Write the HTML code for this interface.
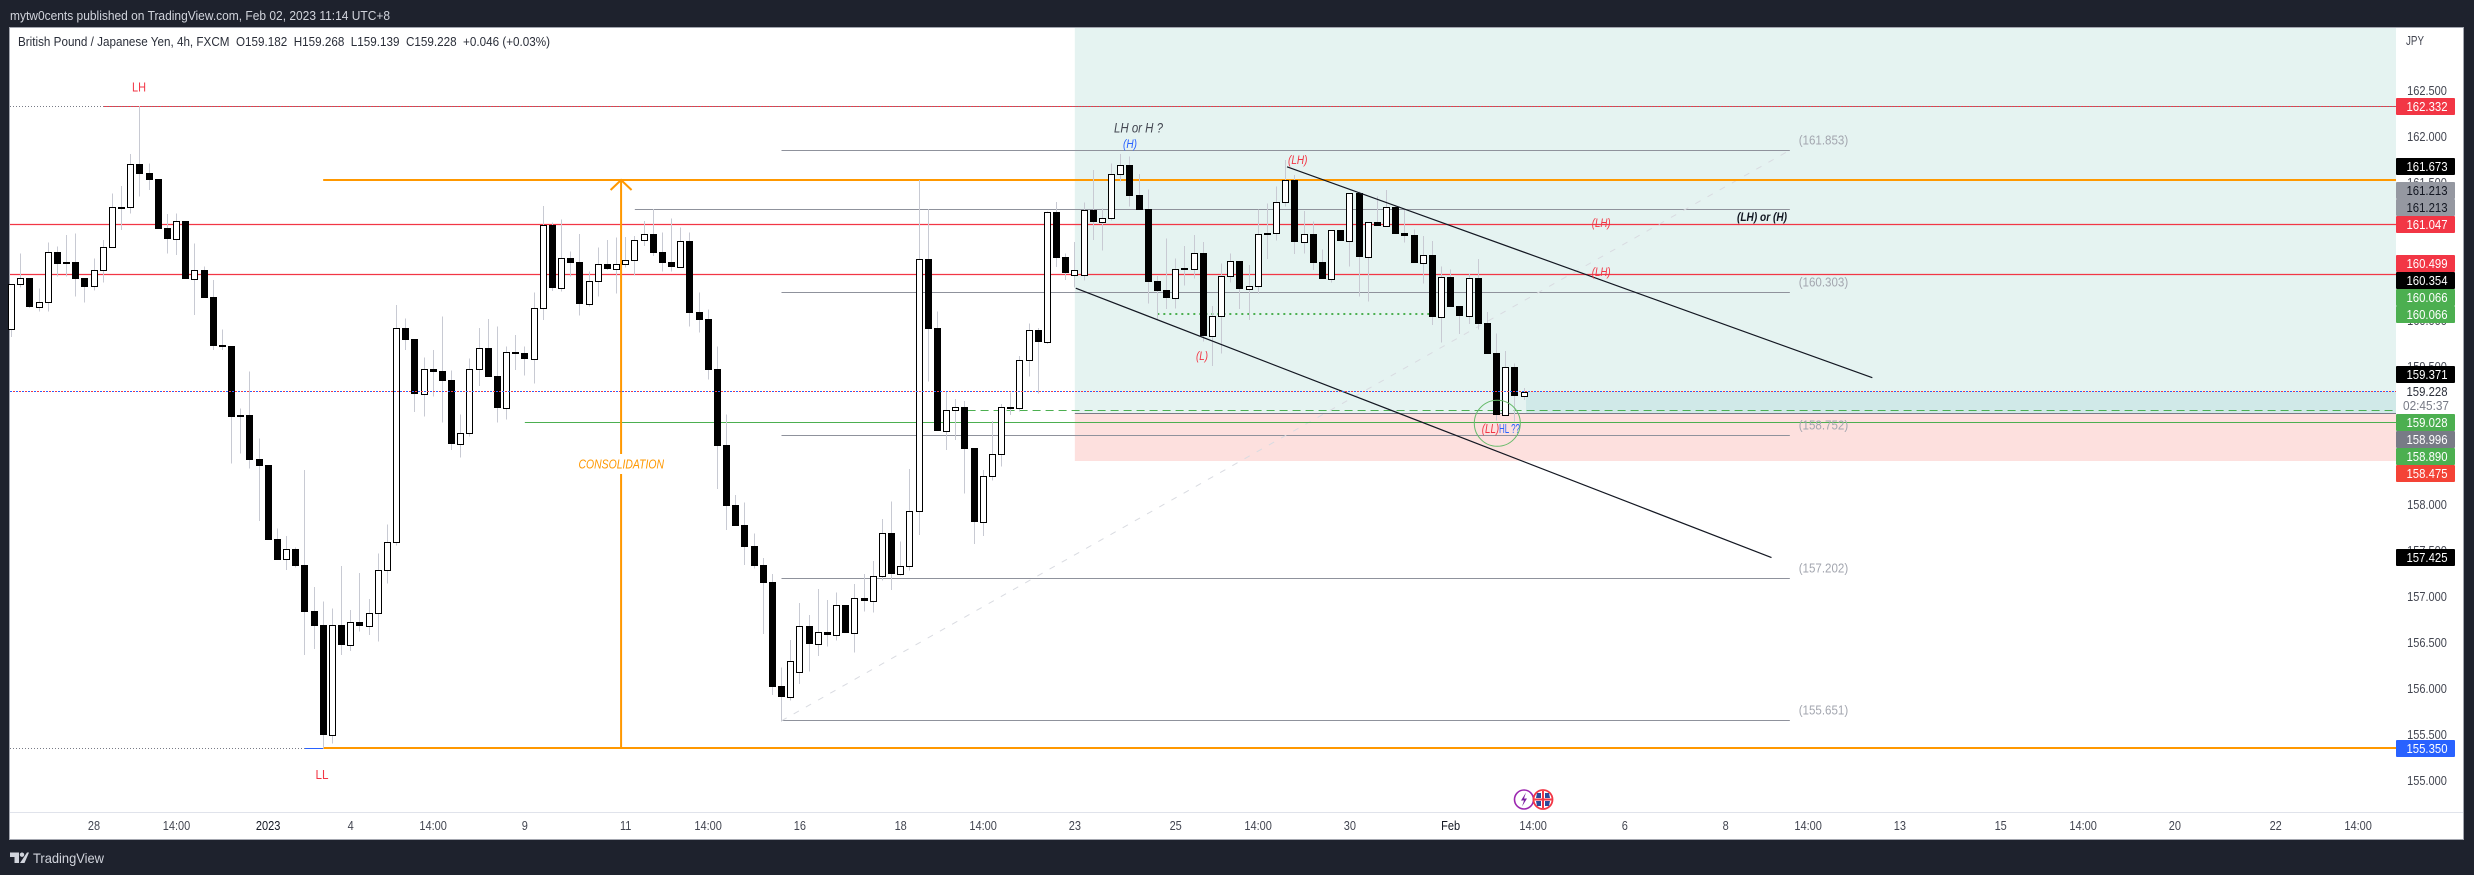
<!DOCTYPE html>
<html lang="en">
<head>
<meta charset="utf-8">
<title>GBPJPY 4h chart</title>
<style>
html,body{margin:0;padding:0;background:#1e222d;width:2474px;height:875px;overflow:hidden}
svg{display:block}
text{font-family:"Liberation Sans",sans-serif}
</style>
</head>
<body>
<svg id="chart" xmlns="http://www.w3.org/2000/svg" width="2474" height="875" viewBox="0 0 2474 875">
  <rect width="2474" height="875" fill="#1e222d"/>
  <text x="10" y="20" font-size="13" fill="#d1d4dc" textLength="380" lengthAdjust="spacingAndGlyphs">mytw0cents published on TradingView.com, Feb 02, 2023 11:14 UTC+8</text>
  <rect x="9.5" y="27.5" width="2454" height="812" fill="#ffffff" stroke="#a3a6af" stroke-width="1"/>
  <g id="shades"></g>
  <g id="linesUnder"></g>
  <g id="candles"></g>
  <g id="linesOver"></g>

  <text x="18" y="46" font-size="13" fill="#2a2e39" style="white-space:pre" textLength="532" lengthAdjust="spacingAndGlyphs">British Pound / Japanese Yen, 4h, FXCM  O159.182  H159.268  L159.139  C159.228  +0.046 (+0.03%)</text>

  <text x="139" y="91.5" font-size="13" fill="#f23645" text-anchor="middle" textLength="14" lengthAdjust="spacingAndGlyphs">LH</text>
  <text x="322" y="779" font-size="13" fill="#f23645" text-anchor="middle" textLength="13" lengthAdjust="spacingAndGlyphs">LL</text>
  <rect x="577" y="454" width="89" height="20" fill="#ffffff"/>
  <text x="578.5" y="468.5" font-size="13" font-style="italic" fill="#ff9800" textLength="85.5" lengthAdjust="spacingAndGlyphs">CONSOLIDATION</text>
  <text x="1114" y="132.5" font-size="13.5" font-style="italic" fill="#434651" textLength="49" lengthAdjust="spacingAndGlyphs">LH or H ?</text>
  <text x="1123" y="148" font-size="11.5" font-style="italic" fill="#2962ff" textLength="14" lengthAdjust="spacingAndGlyphs">(H)</text>
  <text x="1288" y="164" font-size="11.5" font-style="italic" fill="#f23645" textLength="19.5" lengthAdjust="spacingAndGlyphs">(LH)</text>
  <text x="1196" y="360" font-size="11.5" font-style="italic" fill="#f23645" textLength="12" lengthAdjust="spacingAndGlyphs">(L)</text>
  <text x="1591.7" y="227" font-size="11.5" font-style="italic" fill="#f23645" textLength="19" lengthAdjust="spacingAndGlyphs">(LH)</text>
  <text x="1591.7" y="276" font-size="11.5" font-style="italic" fill="#f23645" textLength="19" lengthAdjust="spacingAndGlyphs">(LH)</text>
  <text x="1737" y="221" font-size="11.5" font-style="italic" font-weight="700" fill="#131722" textLength="50" lengthAdjust="spacingAndGlyphs">(LH) or (H)</text>
  <text x="1481.7" y="433" font-size="13" font-style="italic" fill="#f23645" textLength="17.5" lengthAdjust="spacingAndGlyphs">(LL)</text>
  <text x="1499" y="433" font-size="13" fill="#2962ff" textLength="21" lengthAdjust="spacingAndGlyphs">HL ??</text>
  <text x="1798.7" y="144.5" font-size="12.5" fill="#a3a6af" textLength="49.5" lengthAdjust="spacingAndGlyphs">(161.853)</text>
  <text x="1798.7" y="286.5" font-size="12.5" fill="#a3a6af" textLength="49.5" lengthAdjust="spacingAndGlyphs">(160.303)</text>
  <text x="1798.7" y="429.5" font-size="12.5" fill="#a3a6af" textLength="49.5" lengthAdjust="spacingAndGlyphs">(158.752)</text>
  <text x="1798.7" y="572.5" font-size="12.5" fill="#a3a6af" textLength="49.5" lengthAdjust="spacingAndGlyphs">(157.202)</text>
  <text x="1798.7" y="714.5" font-size="12.5" fill="#a3a6af" textLength="49.5" lengthAdjust="spacingAndGlyphs">(155.651)</text>

  <circle cx="1497.3" cy="423.3" r="23" fill="none" stroke="#66bb6a" stroke-width="1"/>

  <g>
    <circle cx="1524" cy="799.5" r="9.5" fill="#ffffff" stroke="#9c27b0" stroke-width="1.6"/>
    <polygon points="1526,792.5 1521,800.5 1524,800.5 1522,806.5 1527,798.5 1524,798.5" fill="#7b1fa2"/>
  </g>
  <g>
    <circle cx="1543" cy="799.5" r="9.5" fill="#ffffff" stroke="#f23645" stroke-width="1.8"/>
    <path d="M1537 793h4v5h-5z M1545 793h4l1 5h-5z M1536 801h5v5h-4z M1545 801h5l-1 5h-4z" fill="#2b4a9b"/>
    <line x1="1534.5" y1="799.5" x2="1551.5" y2="799.5" stroke="#f23645" stroke-width="2"/>
    <line x1="1543" y1="791" x2="1543" y2="808" stroke="#f23645" stroke-width="2"/>
  </g>

  <rect x="2396" y="28" width="67" height="784" fill="#ffffff"/>
  <line x1="10" y1="812.5" x2="2463" y2="812.5" stroke="#e0e3eb" stroke-width="1"/>
  <g id="priceTicks"></g>
  <g id="timeTicks"></g>
  <text x="2415" y="45" font-size="12.5" fill="#434651" text-anchor="middle" textLength="18" lengthAdjust="spacingAndGlyphs">JPY</text>

  <g font-size="12.5" text-anchor="middle">
    <g><rect x="2396" y="98" width="59" height="17" rx="1" fill="#f23645"/><text x="2427" y="111" fill="#fff" textLength="41" lengthAdjust="spacingAndGlyphs">162.332</text></g>
    <g><rect x="2396" y="158" width="59" height="17" rx="1" fill="#000"/><text x="2427" y="171" fill="#fff" textLength="41" lengthAdjust="spacingAndGlyphs">161.673</text></g>
    <g><rect x="2396" y="182" width="59" height="17" rx="1" fill="#9598a1"/><text x="2427" y="195" fill="#131722" textLength="41" lengthAdjust="spacingAndGlyphs">161.213</text></g>
    <g><rect x="2396" y="199" width="59" height="17" rx="1" fill="#9598a1"/><text x="2427" y="212" fill="#131722" textLength="41" lengthAdjust="spacingAndGlyphs">161.213</text></g>
    <g><rect x="2396" y="216" width="59" height="17" rx="1" fill="#f23645"/><text x="2427" y="229" fill="#fff" textLength="41" lengthAdjust="spacingAndGlyphs">161.047</text></g>
    <g><rect x="2396" y="255" width="59" height="17" rx="1" fill="#f23645"/><text x="2427" y="268" fill="#fff" textLength="41" lengthAdjust="spacingAndGlyphs">160.499</text></g>
    <g><rect x="2396" y="272" width="59" height="17" rx="1" fill="#000"/><text x="2427" y="285" fill="#fff" textLength="41" lengthAdjust="spacingAndGlyphs">160.354</text></g>
    <g><rect x="2396" y="289" width="59" height="17" rx="1" fill="#4caf50"/><text x="2427" y="302" fill="#fff" textLength="41" lengthAdjust="spacingAndGlyphs">160.066</text></g>
    <g><rect x="2396" y="306" width="59" height="17" rx="1" fill="#4caf50"/><text x="2427" y="319" fill="#fff" textLength="41" lengthAdjust="spacingAndGlyphs">160.066</text></g>
    <g><rect x="2396" y="366" width="59" height="17" rx="1" fill="#000"/><text x="2427" y="379" fill="#fff" textLength="41" lengthAdjust="spacingAndGlyphs">159.371</text></g>
    <g><rect x="2396" y="383" width="60" height="31" fill="#fff"/><text x="2427" y="396" fill="#2a2e39" textLength="41" lengthAdjust="spacingAndGlyphs">159.228</text><text x="2426" y="410" fill="#787b86" textLength="46" lengthAdjust="spacingAndGlyphs">02:45:37</text></g>
    <g><rect x="2396" y="414" width="59" height="17" rx="1" fill="#4caf50"/><text x="2427" y="427" fill="#fff" textLength="41" lengthAdjust="spacingAndGlyphs">159.028</text></g>
    <g><rect x="2396" y="431" width="59" height="17" rx="1" fill="#787b86"/><text x="2427" y="444" fill="#fff" textLength="41" lengthAdjust="spacingAndGlyphs">158.996</text></g>
    <g><rect x="2396" y="448" width="59" height="17" rx="1" fill="#4caf50"/><text x="2427" y="461" fill="#fff" textLength="41" lengthAdjust="spacingAndGlyphs">158.890</text></g>
    <g><rect x="2396" y="465" width="59" height="17" rx="1" fill="#f44336"/><text x="2427" y="478" fill="#fff" textLength="41" lengthAdjust="spacingAndGlyphs">158.475</text></g>
    <g><rect x="2396" y="549" width="59" height="17" rx="1" fill="#000"/><text x="2427" y="562" fill="#fff" textLength="41" lengthAdjust="spacingAndGlyphs">157.425</text></g>
    <g><rect x="2396" y="740" width="59" height="17" rx="1" fill="#2962ff"/><text x="2427" y="753" fill="#fff" textLength="41" lengthAdjust="spacingAndGlyphs">155.350</text></g>
  </g>

  <g>
    <path d="M10 852.5h9v10.5h-4.5v-6H10z M27 852.5h2l-4.5 10.5h-4.5z" fill="#d1d4dc"/>
    <circle cx="22" cy="854.7" r="2.2" fill="#d1d4dc"/>
    <text x="33" y="863" font-size="14" fill="#d1d4dc" textLength="71" lengthAdjust="spacingAndGlyphs">TradingView</text>
  </g>
</svg>
<script>
const opens=[159.907,160.396,160.461,160.152,160.207,160.744,160.635,160.635,160.461,160.374,
160.548,160.798,161.233,161.233,161.700,161.605,161.540,161.004,160.891,161.084,
160.457,160.548,160.258,159.733,159.725,158.972,158.975,158.497,158.432,157.628,
157.407,157.519,157.345,156.845,156.693,155.500,156.693,156.479,156.722,156.685,
156.820,157.287,157.591,159.918,159.798,159.207,159.472,159.450,159.356,158.657,
158.776,159.472,159.700,159.399,159.054,159.660,159.646,159.587,160.135,161.040,
160.359,160.678,160.635,160.185,160.435,160.613,160.565,160.613,160.657,160.874,
160.939,160.744,160.635,160.587,160.866,160.095,160.019,159.472,158.649,157.997,
157.779,157.551,157.345,157.160,156.029,155.913,156.178,156.682,156.489,156.617,
156.587,156.910,156.609,156.983,156.957,157.222,157.693,157.250,157.331,157.928,
160.670,159.921,158.805,159.026,159.062,158.616,157.817,158.309,158.548,159.062,
159.054,159.570,159.899,159.769,161.181,160.693,160.500,160.500,161.203,161.073,
161.113,161.591,161.693,161.366,161.214,160.432,160.334,160.250,160.573,160.565,
160.736,159.837,160.048,160.483,160.649,160.348,160.374,160.950,160.950,161.287,
161.529,160.859,160.942,160.638,160.457,160.986,160.870,161.388,160.696,161.073,
161.033,161.236,160.953,160.932,160.630,160.714,160.044,160.475,160.160,160.054,
160.464,159.975,159.649,158.978,159.497,159.182];
const highs=[160.399,160.733,160.464,160.352,160.852,160.804,160.932,160.950,160.464,160.678,
160.877,161.385,161.464,161.812,162.332,161.711,161.540,161.160,161.167,161.084,
160.841,160.587,160.442,159.907,159.725,159.048,159.446,158.722,158.432,157.744,
157.660,157.533,158.377,157.106,156.946,156.874,157.334,156.856,157.258,156.975,
157.472,157.787,160.171,160.026,159.798,159.602,159.682,160.044,159.457,158.983,
159.591,159.918,160.019,159.935,159.717,159.845,159.717,160.304,161.247,161.065,
161.102,160.750,160.942,160.533,160.798,160.877,160.907,160.910,160.921,161.084,
161.214,160.961,161.113,161.015,160.961,160.309,160.124,159.717,158.983,158.106,
158.026,157.689,157.418,157.247,156.228,156.529,156.932,156.801,157.084,156.964,
157.048,156.910,157.138,157.247,157.388,157.845,158.033,157.598,158.388,161.529,
161.214,160.098,159.236,159.149,159.127,158.616,158.377,158.910,159.095,159.218,
159.616,159.972,159.918,161.185,161.290,160.733,160.856,161.287,161.638,161.222,
161.711,161.812,161.783,161.595,161.428,160.486,160.896,160.678,160.812,160.932,
160.856,160.160,160.624,160.733,160.649,160.606,161.211,161.276,161.457,161.747,
161.584,161.192,161.076,160.776,160.986,160.986,161.388,161.402,161.073,161.348,
161.421,161.258,161.203,160.994,160.921,160.866,160.587,160.559,160.160,160.508,
160.671,160.095,159.863,159.671,159.537,159.268];
const lows=[159.823,160.363,160.138,160.098,160.098,160.478,160.478,160.261,160.196,160.326,
160.413,160.798,160.986,161.167,161.348,161.421,161.000,160.733,160.714,160.457,
160.062,160.250,159.682,159.682,158.450,158.559,158.396,157.823,157.620,157.399,
157.290,157.315,156.366,156.432,155.352,155.402,156.366,156.410,156.620,156.584,
156.511,157.141,157.554,159.682,159.008,158.956,159.174,158.891,158.595,158.511,
158.739,159.290,159.391,158.891,158.928,159.464,159.402,159.320,160.008,160.323,
160.315,160.478,160.054,160.152,160.261,160.551,160.298,160.576,160.489,160.812,
160.703,160.533,160.533,160.587,159.935,159.870,159.363,158.171,157.725,157.769,
157.345,157.309,156.595,155.932,155.641,155.870,156.051,156.185,156.356,156.457,
156.522,156.609,156.391,156.837,156.826,157.174,157.073,157.228,157.283,157.671,
159.337,158.801,158.595,158.703,158.124,157.573,157.660,158.261,158.413,158.975,
159.011,159.391,159.211,159.747,160.581,160.442,160.363,160.435,160.877,160.761,
161.087,161.511,161.239,161.203,160.189,160.008,160.127,160.135,160.381,160.461,
159.772,159.508,159.646,160.413,160.127,160.008,160.298,160.671,160.870,161.239,
160.725,160.733,160.551,160.453,160.413,160.866,160.587,160.261,160.207,161.029,
161.033,160.942,160.848,160.627,160.407,159.953,159.761,160.149,159.856,159.964,
159.907,159.638,158.913,158.978,158.902,159.139];
const closes=[160.396,160.461,160.152,160.207,160.744,160.620,160.620,160.457,160.370,160.548,
160.798,161.233,161.227,161.700,161.598,161.529,161.000,160.891,161.080,160.457,
160.548,160.250,159.728,159.717,158.956,158.956,158.486,158.424,157.620,157.399,
157.516,157.337,156.837,156.685,155.497,156.689,156.479,156.722,156.685,156.820,
157.287,157.591,159.918,159.794,159.207,159.472,159.446,159.348,158.657,158.776,
159.472,159.700,159.391,159.054,159.657,159.646,159.587,160.135,161.037,160.359,
160.678,160.630,160.185,160.435,160.613,160.565,160.613,160.657,160.874,160.939,
160.736,160.630,160.587,160.863,160.087,160.008,159.464,158.641,157.986,157.769,
157.544,157.334,157.149,156.019,155.913,156.298,156.678,156.486,156.613,156.584,
156.907,156.609,156.983,156.953,157.222,157.689,157.247,157.331,157.928,160.667,
159.910,158.801,159.026,159.059,158.606,157.812,158.309,158.548,159.059,159.051,
159.570,159.896,159.769,161.178,160.682,160.519,160.548,161.200,161.073,161.113,
161.591,161.689,161.356,161.203,160.421,160.323,160.247,160.559,160.554,160.733,
159.834,160.048,160.483,160.646,160.345,160.374,160.939,160.932,161.287,161.526,
160.856,160.939,160.627,160.453,160.983,160.866,161.385,160.693,161.069,161.029,
161.233,160.942,160.921,160.627,160.711,160.040,160.472,160.149,160.051,160.461,
159.964,159.638,158.975,159.494,159.182,159.228];
const priceTickValues=[162.5,162,161.5,160,159.5,158,157.5,157,156.5,156,155.5,155];
const priceTickLabels=["162.500","162.000","161.500","160.000","159.500","158.000","157.500","157.000","156.500","156.000","155.500","155.000"];
const timeTickBars=[9,18,28,37,46,56,67,76,86,97,106,116,127,136,146,157,166,176,187,196,206,217,226,236,247,256];
const timeTickLabels=["28","14:00","2023","4","14:00","9","11","14:00","16","18","14:00","23","25","14:00","30","Feb","14:00","6","8","14:00","13","15","14:00","20","22","14:00"];
const fibLevels=[161.853,160.303,158.752,157.202,155.651];
const redLevels=[161.047,160.499];
const lhLevel=162.332, orangeLevel=161.529, lowLevel=155.35, lastPrice=159.228;
const greenSolid=158.89, greenDashed=159.028, greenDotted=160.066, greyLevel=161.213;
const entryLevel=158.996, stopLevel=158.475;
const upperChannel=[139.15,161.673,203,159.38];
const lowerChannel=[116.1,160.354,192,157.425];

const SVGNS="http://www.w3.org/2000/svg";
const plotLeft=10, plotRight=2396, plotTop=28;
function xOf(bar){return 11.5+9.16667*bar;}
function yOf(price){return 90.7+(162.5-price)*92;}
function node(parent,tag,attrs){
  const el=document.createElementNS(SVGNS,tag);
  for(const k in attrs){el.setAttribute(k,attrs[k]);}
  parent.appendChild(el);
  return el;
}
function hline(parent,x1,x2,price,stroke,w,dash){
  const y=Math.floor(yOf(price))+(w>1.5?0:0.5);
  const el=node(parent,"line",{x1:x1,x2:x2,y1:y,y2:y,stroke:stroke,"stroke-width":w});
  if(dash){el.setAttribute("stroke-dasharray",dash);}
  return el;
}

const shades=document.getElementById("shades");
const sx=xOf(116);
let el=node(shades,"rect",{x:sx,y:plotTop,width:plotRight-sx,height:yOf(entryLevel)-plotTop,fill:"#e5f3f1"});


el=node(shades,"rect",{x:sx,y:yOf(entryLevel),width:plotRight-sx,height:yOf(stopLevel)-yOf(entryLevel),fill:"#fde0de"});


const curX=xOf(165)+2;
el=node(shades,"rect",{x:curX,y:yOf(lastPrice),width:plotRight-curX,height:yOf(entryLevel)-yOf(lastPrice),fill:"#d0e9e8"});



const under=document.getElementById("linesUnder");
el=hline(under,plotLeft,xOf(10),lhLevel,"#787b86",1,"1 2");


el=hline(under,xOf(10),plotRight,lhLevel,"#f23645",1);


el=hline(under,xOf(10),plotRight,lhLevel,"#787b86",1,"1 2");


redLevels.forEach(function(p){
  const ln=hline(under,plotLeft,plotRight,p,"#f23645",1.2);
  
  
});
fibLevels.forEach(function(p){
  const ln=hline(under,xOf(84),xOf(194),p,"#8f929c",1);
  
  
});
el=hline(under,xOf(68),xOf(194),greyLevel,"#8f929c",1);


el=node(under,"line",{x1:xOf(84),y1:yOf(fibLevels[4]),x2:xOf(194),y2:yOf(fibLevels[0]),stroke:"#d9dbe1","stroke-width":1,"stroke-dasharray":"6 8"});


el=hline(under,xOf(56),plotRight,greenSolid,"#4caf50",1);


el=hline(under,xOf(104.3),plotRight,greenDashed,"#4caf50",1,"8 5");


el=hline(under,xOf(125),xOf(155),greenDotted,"#4caf50",2,"2 4");


el=hline(under,sx,plotRight,entryLevel,"#787b86",1);


el=hline(under,plotLeft,xOf(32),lowLevel,"#787b86",1,"1 2");


el=hline(under,xOf(32),xOf(34),lowLevel,"#2962ff",1);


el=hline(under,xOf(34),plotRight,lowLevel,"#ff9800",2);


el=hline(under,xOf(34),plotRight,orangeLevel,"#ff9800",2);


const arrowX=xOf(66.5);
el=node(under,"line",{x1:arrowX,y1:yOf(orangeLevel),x2:arrowX,y2:yOf(lowLevel),stroke:"#ff9800","stroke-width":2});


el=node(under,"polyline",{points:(arrowX-10.5)+","+(yOf(orangeLevel)+10)+" "+arrowX+","+yOf(orangeLevel)+" "+(arrowX+10.5)+","+(yOf(orangeLevel)+10),fill:"none",stroke:"#ff9800","stroke-width":2});



const candles=document.getElementById("candles");
opens.forEach(function(o,i){
  const c=closes[i];
  const left=Math.round(xOf(i)-3.5);
  const cx=left+3.5;
  const wick=node(candles,"line",{x1:cx,x2:cx,y1:yOf(highs[i]),y2:yOf(lows[i]),stroke:"#c8cad3","stroke-width":1,"shape-rendering":"crispEdges"});
  
  
  const top=Math.round(yOf(Math.max(o,c)));
  const bot=Math.round(yOf(Math.min(o,c)));
  let body;
  if(c<o){
    body=node(candles,"rect",{x:left,y:top,width:7,height:Math.max(bot-top,2),fill:"#000","shape-rendering":"crispEdges"});
  }else{
    body=node(candles,"rect",{x:left+0.5,y:top+0.5,width:6,height:Math.max(bot-top,2),fill:"#fff",stroke:"#000","stroke-width":1,"shape-rendering":"crispEdges"});
  }
  
  
});

const over=document.getElementById("linesOver");
el=node(over,"line",{x1:xOf(upperChannel[0]),y1:yOf(upperChannel[1]),x2:xOf(upperChannel[2]),y2:yOf(upperChannel[3]),stroke:"#131722","stroke-width":1.2});


el=node(over,"line",{x1:xOf(lowerChannel[0]),y1:yOf(lowerChannel[1]),x2:xOf(lowerChannel[2]),y2:yOf(lowerChannel[3]),stroke:"#131722","stroke-width":1.2});


el=hline(over,plotLeft,plotRight,lastPrice,"#2962ff",1,"2 4");


el=hline(over,plotLeft+3,plotRight,lastPrice,"#f23645",1,"2 4");



function squeezed(parent,x,y,label,anchor,fill){
  const t=node(parent,"text",{x:x,y:y,"font-size":12.5,fill:fill,"text-anchor":anchor});
  t.textContent=label;
  const w=t.getComputedTextLength();
  t.setAttribute("textLength",(w*0.88).toFixed(1));
  t.setAttribute("lengthAdjust","spacingAndGlyphs");
  return t;
}
const priceG=document.getElementById("priceTicks");
priceTickValues.forEach(function(p,i){
  const t=squeezed(priceG,2427,yOf(p)+4.5,priceTickLabels[i],"middle","#434651");
  
  
});
const timeG=document.getElementById("timeTicks");
timeTickBars.forEach(function(b,i){
  const lab=timeTickLabels[i];
  const t=squeezed(timeG,xOf(b),830.2,lab,"middle",lab==="2023"||lab==="Feb"?"#131722":"#434651");
  
  
});
</script>
</body>
</html>
